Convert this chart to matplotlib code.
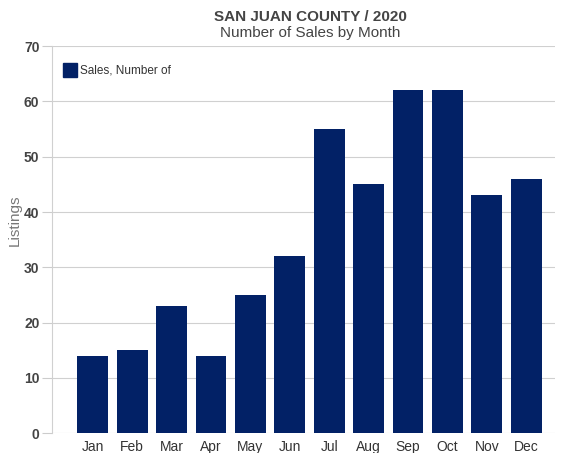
import matplotlib.pyplot as plt
from matplotlib.patches import Patch

months = ['Jan', 'Feb', 'Mar', 'Apr', 'May', 'Jun', 'Jul', 'Aug', 'Sep', 'Oct', 'Nov', 'Dec']
sales = [14, 15, 23, 14, 25, 32, 55, 45, 62, 62, 43, 46]
yticks = [0, 10, 20, 30, 40, 50, 60, 70]

plt.rcParams['font.family'] = ['Liberation Sans', 'DejaVu Sans']
navy = '#022166'

fig = plt.figure(figsize=(5.64, 4.53), dpi=100)
ax = fig.add_axes([0.092, 0.044, 0.892, 0.854])

x = range(len(months))
ax.bar(x, sales, width=0.78, color=navy, zorder=3)

ax.set_xlim(-1.04, 11.73)
ax.set_ylim(0, 70)
ax.set_yticks(yticks)
ax.set_xticks(list(x))
ax.set_xticklabels(months, fontsize=10, color='#333333')
ax.set_yticklabels([str(v) for v in yticks], fontsize=10, color='#444444', fontweight='bold')
ax.grid(axis='y', color='#d0d0d0', linewidth=0.8, zorder=0)
ax.tick_params(axis='x', length=0, pad=5)
ax.tick_params(axis='y', length=7, color='#cccccc', pad=2)
for s in ['top', 'right', 'bottom']:
    ax.spines[s].set_visible(False)
ax.spines['left'].set_color('#d0d0d0')
ax.spines['left'].set_linewidth(0.8)

ax.set_ylabel('Listings', fontsize=11, color='#777777')
ax.yaxis.set_label_coords(-0.06, 0.55)

fig.text(0.55, 0.962, 'SAN JUAN COUNTY / 2020', ha='center', va='center',
         fontsize=11, fontweight='bold', color='#444444')
fig.text(0.55, 0.927, 'Number of Sales by Month', ha='center', va='center',
         fontsize=11, color='#444444')

leg = ax.legend(handles=[Patch(color=navy, label='Sales, Number of')],
                loc='upper left', bbox_to_anchor=(0.0, 0.985), frameon=False,
                handlelength=1.2, handleheight=1.5, handletextpad=0.3,
                prop={'family': ['Liberation Sans', 'DejaVu Sans'], 'size': 8.5})
for t in leg.get_texts():
    t.set_color('#333333')

fig.savefig('out.png', dpi=100)
